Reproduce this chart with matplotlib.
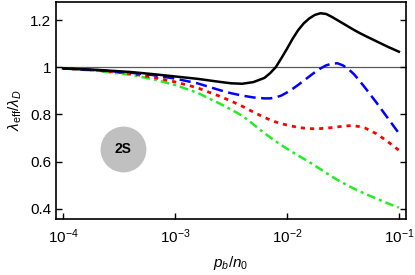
import matplotlib
matplotlib.use("Agg")
import matplotlib.pyplot as plt
import numpy as np

plt.rcParams['font.family'] = ['Liberation Sans', 'DejaVu Sans']
plt.rcParams['mathtext.fontset'] = 'custom'
plt.rcParams['mathtext.rm'] = 'Liberation Sans'
plt.rcParams['mathtext.it'] = 'Liberation Sans:italic'

# log10(p_b / n_0) sample points
log_p = [-4.0, -3.7, -3.4, -3.2, -3.0, -2.8, -2.6, -2.5, -2.4, -2.3, -2.2,
         -2.15, -2.1, -2.05, -2.0, -1.95, -1.9, -1.85, -1.8, -1.75, -1.7,
         -1.65, -1.6, -1.55, -1.5, -1.45, -1.4, -1.35, -1.3, -1.2, -1.1, -1.0]

black = [0.995, 0.989, 0.980, 0.971, 0.961, 0.951, 0.938, 0.932, 0.930, 0.937, 0.955,
         0.975, 1.000, 1.038, 1.078, 1.120, 1.157, 1.186, 1.207, 1.222, 1.229,
         1.226, 1.214, 1.200, 1.186, 1.172, 1.158, 1.145, 1.133, 1.110, 1.087, 1.066]
blue = [0.995, 0.988, 0.977, 0.967, 0.952, 0.932, 0.903, 0.890, 0.880, 0.872, 0.868,
        0.868, 0.872, 0.880, 0.893, 0.908, 0.925, 0.943, 0.961, 0.979, 0.995,
        1.008, 1.015, 1.017, 1.008, 0.992, 0.970, 0.942, 0.912, 0.850, 0.785, 0.720]
red = [0.995, 0.987, 0.973, 0.958, 0.938, 0.913, 0.877, 0.857, 0.835, 0.810, 0.787,
       0.777, 0.768, 0.761, 0.755, 0.750, 0.745, 0.742, 0.740, 0.739, 0.740,
       0.742, 0.744, 0.747, 0.750, 0.752, 0.752, 0.748, 0.742, 0.718, 0.685, 0.648]
green = [0.995, 0.985, 0.968, 0.950, 0.925, 0.892, 0.846, 0.821, 0.795, 0.758, 0.720,
         0.703, 0.686, 0.670, 0.655, 0.640, 0.626, 0.612, 0.598, 0.583, 0.568,
         0.552, 0.537, 0.523, 0.510, 0.497, 0.485, 0.474, 0.463, 0.443, 0.423, 0.405]

p = 10.0 ** np.array(log_p)

fig = plt.figure(figsize=(4.15, 2.75), dpi=100)
ax = fig.add_axes([0.135, 0.204, 0.843, 0.789])

ax.axhline(1.0, color='0.35', lw=0.9, zorder=1)
ax.plot(p, black, color='black', lw=1.8, zorder=5)
ax.plot(p, blue, color='#0000ff', lw=1.8, dashes=(4.5, 2.2), zorder=4)
ax.plot(p, red, color='#ff0000', lw=2.0, dashes=(1.5, 1.8), zorder=3)
ax.plot(p, green, color='#22ee22', lw=1.8, dashes=(3.5, 1.6, 1.2, 1.6), zorder=2)

# "2S" badge
ax.plot([10 ** -3.464], [0.655], marker='o', markersize=33, color='#c0c0c0',
        mec='none', zorder=6)
ax.text(10 ** -3.464, 0.655, '2S', ha='center', va='center', fontsize=10,
        fontweight='bold', zorder=7)

ax.set_xscale('log')
ax.set_xlim(10 ** -4.0625, 10 ** -0.9375)
ax.set_ylim(0.357, 1.277)
ax.set_xticks([1e-4, 1e-3, 1e-2, 1e-1])
ax.set_xticklabels([r'$10^{-4}$', r'$10^{-3}$', r'$10^{-2}$', r'$10^{-1}$'])
ax.xaxis.set_minor_locator(matplotlib.ticker.NullLocator())
ax.set_yticks([0.4, 0.6, 0.8, 1.0, 1.2])
ax.set_yticklabels(['0.4', '0.6', '0.8', '1', '1.2'])
ax.tick_params(axis='both', direction='in', labelsize=11, length=4, width=1)
ax.tick_params(axis='y', right=True)
ax.tick_params(axis='x', pad=6)
for s in ax.spines.values():
    s.set_linewidth(1.2)

ax.set_xlabel(r'$p_b/n_0$', fontsize=11, labelpad=6)
ax.set_ylabel(r'$\lambda_{\rm eff}/\lambda_D$', fontsize=11, labelpad=4)

fig.savefig('out.png', dpi=100)
